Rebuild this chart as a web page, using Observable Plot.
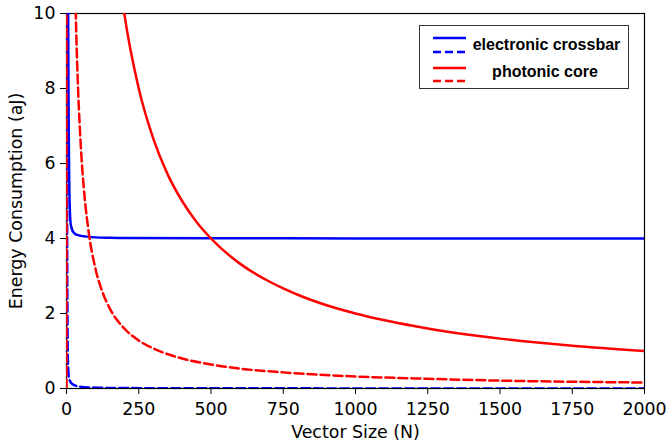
<!DOCTYPE html>
<html>
<head>
<meta charset="utf-8">
<script src="https://cdn.jsdelivr.net/npm/d3@7"></script>
<script src="https://cdn.jsdelivr.net/npm/@observablehq/plot@0.6"></script>
<style>
  html, body { margin: 0; padding: 0; background: white; }
  #chart svg text { font-family: "DejaVu Sans", sans-serif; font-size: 17.4px; }
  #chart svg g.legend text { font-family: "Liberation Sans", Arial, sans-serif; font-size: 16px; font-weight: bold; }
</style>
</head>
<body>
<div id="chart"></div>
<script>
// ---- data ----
const xTicks = [0, 250, 500, 750, 1000, 1250, 1500, 1750, 2000];
const yTicks = [0, 2, 4, 6, 8, 10];

// electronic crossbar (solid)
const elecSolidN = [5, 6, 7, 8, 9, 10, 11, 12, 14, 17, 20, 25, 30, 40, 50, 70, 100, 150, 200, 500, 1000, 2000];
const elecSolidE = [12, 9.5, 7.8, 6.6, 5.8, 5.25, 4.9, 4.65, 4.42, 4.3, 4.22, 4.16, 4.12, 4.09, 4.07, 4.05, 4.03, 4.02, 4.015, 4.006, 4.003, 4.0015];

// electronic crossbar (dashed)
const elecDashN = [1, 1.5, 2, 3, 4, 5, 6, 8, 12, 20, 40, 76, 150, 500, 2000];
const elecDashE = [12, 8, 5, 2.5, 1.2, 0.7, 0.5, 0.3, 0.2, 0.12, 0.06, 0.03, 0.015, 0.005, 0.001];

// photonic core (solid)
const photSolidN = [1, 2, 5, 10, 20, 35, 50, 75, 100, 150, 200, 250, 300, 350, 400, 450, 500, 600, 700, 750, 800, 900, 1000, 1250, 1500, 1750, 2000];
const photSolidE = [2000, 1000, 400, 200, 100, 57, 40, 26.7, 20, 13.3, 10, 8, 6.67, 5.71, 5, 4.44, 4, 3.33, 2.86, 2.67, 2.5, 2.22, 2, 1.6, 1.33, 1.14, 1];

// photonic core (dashed)
const photDashN = [0, 1, 2, 5, 10, 20, 30, 35, 40, 50, 60, 75, 100, 125, 150, 200, 250, 300, 400, 500, 600, 750, 1000, 1250, 1500, 1750, 2000];
const photDashE = [0, 320, 160, 64, 32, 16, 10.7, 9.14, 8, 6.4, 5.33, 4.27, 3.2, 2.56, 2.13, 1.6, 1.28, 1.07, 0.8, 0.64, 0.53, 0.43, 0.32, 0.26, 0.21, 0.18, 0.16];

const legendLabels = ["electronic crossbar", "photonic core"];

const BLUE = "#0000ff";
const RED = "#ff0000";
const DASH = "9,4";
const LW = 2.5;

const toRows = (ns, es) => ns.map((n, i) => ({n, e: es[i]}));

const lineOpts = (color, dashed) => ({
  x: "n", y: "e", stroke: color, strokeWidth: LW, curve: "monotone-x", clip: true,
  strokeDasharray: dashed ? DASH : null
});

const chart = Plot.plot({
  width: 667,
  height: 444,
  marginLeft: 66,
  marginRight: 23,
  marginTop: 13,
  marginBottom: 56,
  style: {fontFamily: "DejaVu Sans", fontSize: "17.4px", background: "white", color: "black"},
  x: {domain: [0, 2000]},
  y: {domain: [0, 10]},
  marks: [
    Plot.frame({stroke: "black", strokeWidth: 1.2}),
    Plot.axisX({ticks: xTicks, tickFormat: d => String(d), tickSize: 6, tickPadding: 8, label: null, fontSize: 17.4}),
    Plot.axisY({ticks: yTicks, tickFormat: d => String(d), tickSize: 6, tickPadding: 5, label: null, fontSize: 17.4}),
    Plot.line(toRows(elecSolidN, elecSolidE), lineOpts(BLUE, false)),
    Plot.line(toRows(elecDashN, elecDashE), lineOpts(BLUE, true)),
    Plot.line(toRows(photSolidN, photSolidE), lineOpts(RED, false)),
    Plot.line(toRows(photDashN, photDashE), lineOpts(RED, true)),
    Plot.text(["Vector Size (N)"], {frameAnchor: "bottom", dy: 44, lineAnchor: "middle", textAnchor: "middle", fontSize: 17.4, fill: "black"}),
    Plot.text(["Energy Consumption (aJ)"], {frameAnchor: "left", dx: -50, rotate: -90, lineAnchor: "middle", textAnchor: "middle", fontSize: 17.4, fill: "black"})
  ]
});

// legend (inside plot, upper right)
const svg = d3.select(chart);
const lg = svg.append("g").attr("class", "legend");
lg.append("rect").attr("x", 419.5).attr("y", 25.5).attr("width", 209).attr("height", 63)
  .attr("fill", "white").attr("stroke", "#333").attr("stroke-width", 1);
const entries = [
  {color: BLUE, y1: 38, y2: 52, label: legendLabels[0], cx: 546.5, by: 49.5},
  {color: RED, y1: 68, y2: 81, label: legendLabels[1], cx: 545, by: 77}
];
for (const en of entries) {
  lg.append("line").attr("x1", 433).attr("x2", 466).attr("y1", en.y1).attr("y2", en.y1)
    .attr("stroke", en.color).attr("stroke-width", LW);
  lg.append("line").attr("x1", 433).attr("x2", 466).attr("y1", en.y2).attr("y2", en.y2)
    .attr("stroke", en.color).attr("stroke-width", LW).attr("stroke-dasharray", "8,4");
  lg.append("text").attr("x", en.cx).attr("y", en.by).attr("text-anchor", "middle")
    .attr("fill", "black").text(en.label);
}

document.getElementById("chart").appendChild(chart);
</script>
</body>
</html>
